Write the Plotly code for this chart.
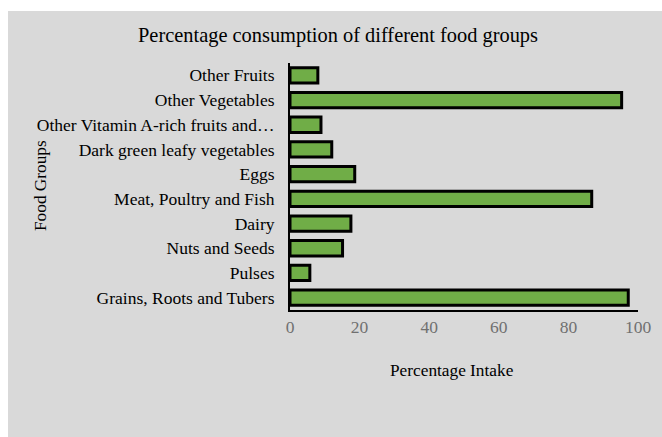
import plotly.graph_objects as go

categories = ["Grains, Roots and Tubers", "Pulses", "Nuts and Seeds", "Dairy",
              "Meat, Poultry and Fish", "Eggs", "Dark green leafy vegetables",
              "Other Vitamin A-rich fruits and…", "Other Vegetables", "Other Fruits"]
values = [97.2, 5.7, 15.1, 17.5, 86.7, 18.6, 12.0, 8.9, 95.3, 8.0]
x_ticks = [0, 20, 40, 60, 80, 100]

W, H = 662, 437
L, R, T, B = 290, 24, 63, 127
pw, ph = W - L - R, H - T - B

fig = go.Figure(go.Bar(
    y=categories, x=values, orientation="h",
    marker=dict(color="#70ad47", line=dict(color="black", width=3)),
))

font = "Liberation Serif"
fig.update_layout(
    width=W, height=H,
    margin=dict(l=L, r=R, t=T, b=B),
    paper_bgcolor="white", plot_bgcolor="rgba(0,0,0,0)",
    font=dict(family=font, size=17.5, color="black"),
    bargap=0.38,
    showlegend=False,
    xaxis=dict(range=[0, 100], tickvals=x_ticks, showgrid=False, zeroline=False,
               showline=True, linecolor="black", linewidth=2,
               tickfont=dict(family=font, color="#707070", size=17.5), ticks="", fixedrange=True),
    yaxis=dict(showgrid=False, zeroline=False, showline=True, linecolor="black",
               linewidth=2, ticks="", ticklabelstandoff=10, fixedrange=True,
               tickfont=dict(family=font, size=17.5, color="black")),
    shapes=[dict(type="rect", xref="paper", yref="paper", layer="below",
                 x0=(8 - L) / pw, x1=(W - L) / pw, y0=-(H - (H - B)) / ph,
                 y1=((H - B) - 11) / ph, fillcolor="#d9d9d9", line=dict(width=0))],
    annotations=[
        dict(text="Percentage consumption of different food groups", xref="paper", yref="paper",
             x=(338 - L) / pw, y=((H - B) - 36) / ph, showarrow=False,
             font=dict(size=20.4, family=font), xanchor="center", yanchor="middle"),
        dict(text="Percentage Intake", xref="paper", yref="paper",
             x=(452 - L) / pw, y=((H - B) - 370) / ph, showarrow=False,
             font=dict(size=17.3, family=font), xanchor="center", yanchor="middle"),
        dict(text="Food Groups", xref="paper", yref="paper", textangle=-90,
             x=(40 - L) / pw, y=((H - B) - 186) / ph, showarrow=False,
             font=dict(size=17.3, family=font), xanchor="center", yanchor="middle"),
    ],
)

fig.write_html("out.html")
